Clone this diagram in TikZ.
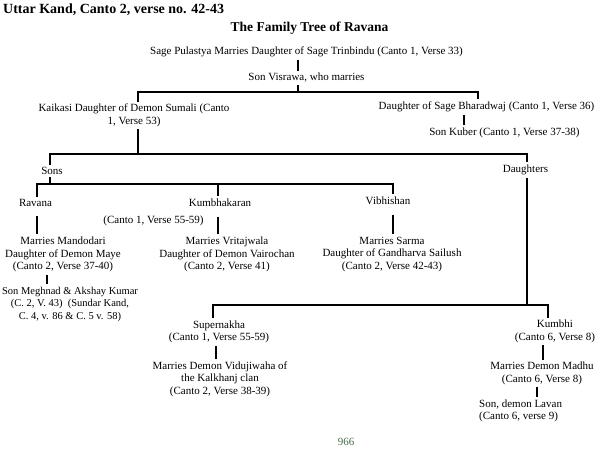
\documentclass[tikz,border=0pt]{standalone}
\usepackage{fontspec}
\setmainfont{Liberation Serif}
\usepackage{tikz}
\usetikzlibrary{positioning}

\definecolor{pagegreen}{RGB}{72,108,72}

\begin{document}
\begin{tikzpicture}[x=1pt, y=-1pt,
    person/.style={inner xsep=0pt, inner ysep=2.5pt, align=center, font=\fontsize{11}{12.5}\selectfont},
    head/.style={inner sep=0pt, font=\bfseries\fontsize{13.5}{15}\selectfont},
    link/.style={line width=1.4pt}]
    \useasboundingbox (0,0) rectangle (600,452);

    % Headings
    \node[head, anchor=west, font=\bfseries\fontsize{14}{16}\selectfont] (kand) at (3,10) {Uttar Kand, Canto 2, verse no. 42-43};
    \node[head] (tree) at (309.5,28) {The Family Tree of Ravana};

    % Parents
    \node[person] (pulastya) at (306.5,52) {Sage Pulastya Marries Daughter of Sage Trinbindu (Canto 1, Verse 33)};
    \node[person] (visrawa) at (306.5,78) {Son Visrawa, who marries};
    \node[person] (kaikasi) at (134,115.5) {Kaikasi Daughter of Demon Sumali (Canto\\1, Verse 53)};
    \node[person] (bharadwaj) at (486.5,107) {Daughter of Sage Bharadwaj (Canto 1, Verse 36)};
    \node[person] (kuber) at (504.5,133) {Son Kuber (Canto 1, Verse 37-38)};

    % Sons and daughters
    \node[person] (sons) at (52,171) {Sons};
    \node[person] (daughters) at (525.5,170) {Daughters};

    % Sons
    \node[person] (ravana) at (35.5,203) {Ravana};
    \node[person] (kumbhakaran) at (220,203) {Kumbhakaran};
    \node[person] (vibhishan) at (388,201) {Vibhishan};
    \node[person] (kcanto) at (153.5,221) {(Canto 1, Verse 55-59)};
    \node[person] (mandodari) at (63,254.5) {Marries Mandodari\\Daughter of Demon Maye\\(Canto 2, Verse 37-40)};
    \node[person] (vritajwala) at (227,254.5) {Marries Vritajwala\\Daughter of Demon Vairochan\\(Canto 2, Verse 41)};
    \node[person] (sarma) at (392,254.5) {Marries Sarma\\Daughter of Gandharva Sailush\\(Canto 2, Verse 42-43)};
    \node[person, font=\fontsize{10.5}{12.5}\selectfont] (meghnad) at (70,304) {Son Meghnad \& Akshay Kumar\\(C. 2, V. 43)\ \ (Sundar Kand,\\C. 4, v. 86 \& C. 5 v. 58)};

    % Daughters
    \node[person] (supernakha) at (219,332) {Supernakha\\(Canto 1, Verse 55-59)};
    \node[person] (vidujiwaha) at (220,379) {Marries Demon Vidujiwaha of\\the Kalkhanj clan\\(Canto 2, Verse 38-39)};
    \node[person] (kumbhi) at (555,331.5) {Kumbhi\\(Canto 6, Verse 8)};
    \node[person] (madhu) at (542,373.5) {Marries Demon Madhu\\(Canto 6, Verse 8)};
    \node[person, anchor=west, align=left] (lavan) at (479,411) {Son, demon Lavan\\(Canto 6, verse 9)};

    % Page number
    \node[person, text=pagegreen] (page) at (346,442) {966};

    % Junctions
    \coordinate (stem) at (298,92);
    \coordinate (bline) at (478,92);
    \coordinate (kubline) at (464,0);
    \coordinate (kline) at (138,154);
    \coordinate (dline) at (527,305);
    \coordinate (sonline) at (50,184);
    \coordinate (rline) at (37,0);
    \coordinate (kbline) at (218,0);
    \coordinate (vline) at (393,0);
    \coordinate (mline) at (47,0);
    \coordinate (sline) at (213,0);
    \coordinate (spline) at (216,0);
    \coordinate (kuline) at (548,0);
    \coordinate (kmline) at (543,0);
    \coordinate (lline) at (537,0);

    % Top lines
    \draw[link] (pulastya.south -| stem) -- (visrawa.north -| stem);
    \draw[link] (visrawa.south -| stem) -- (stem);
    \draw[link] (kaikasi.north -| kline) |- (bline) -- (bharadwaj.north -| bline);
    \draw[link] (bharadwaj.south -| kubline) -- (kuber.north -| kubline);

    % Children of Kaikasi
    \draw[link] (kaikasi.south -| kline) -- (kline);
    \draw[link] (sons.north -| sonline) |- (kline) -| (daughters.north -| dline);

    % Sons lines
    \draw[link] (sons.south -| sonline) -- (sonline);
    \draw[link] (ravana.north -| rline) |- (sonline) -| (vibhishan.north -| vline);
    \draw[link] (kbline |- sonline) -- (kumbhakaran.north -| kbline);
    \draw[link, shorten <=7pt] (ravana.south -| rline) -- (mandodari.north -| rline);
    \draw[link, shorten <=7pt] (kumbhakaran.south -| kbline) -- (vritajwala.north -| kbline);
    \draw[link, shorten <=7pt] (vibhishan.south -| vline) -- (sarma.north -| vline);
    \draw[link] (mandodari.south -| mline) -- (meghnad.north -| mline);

    % Daughters lines
    \draw[link] (daughters.south -| dline) -- (dline);
    \draw[link] (supernakha.north -| sline) |- (dline) -| (kumbhi.north -| kuline);
    \draw[link] (supernakha.south -| spline) -- (vidujiwaha.north -| spline);
    \draw[link] (kumbhi.south -| kmline) -- (madhu.north -| kmline);
    \draw[link] (madhu.south -| lline) -- (lavan.north -| lline);

\end{tikzpicture}
\end{document}
